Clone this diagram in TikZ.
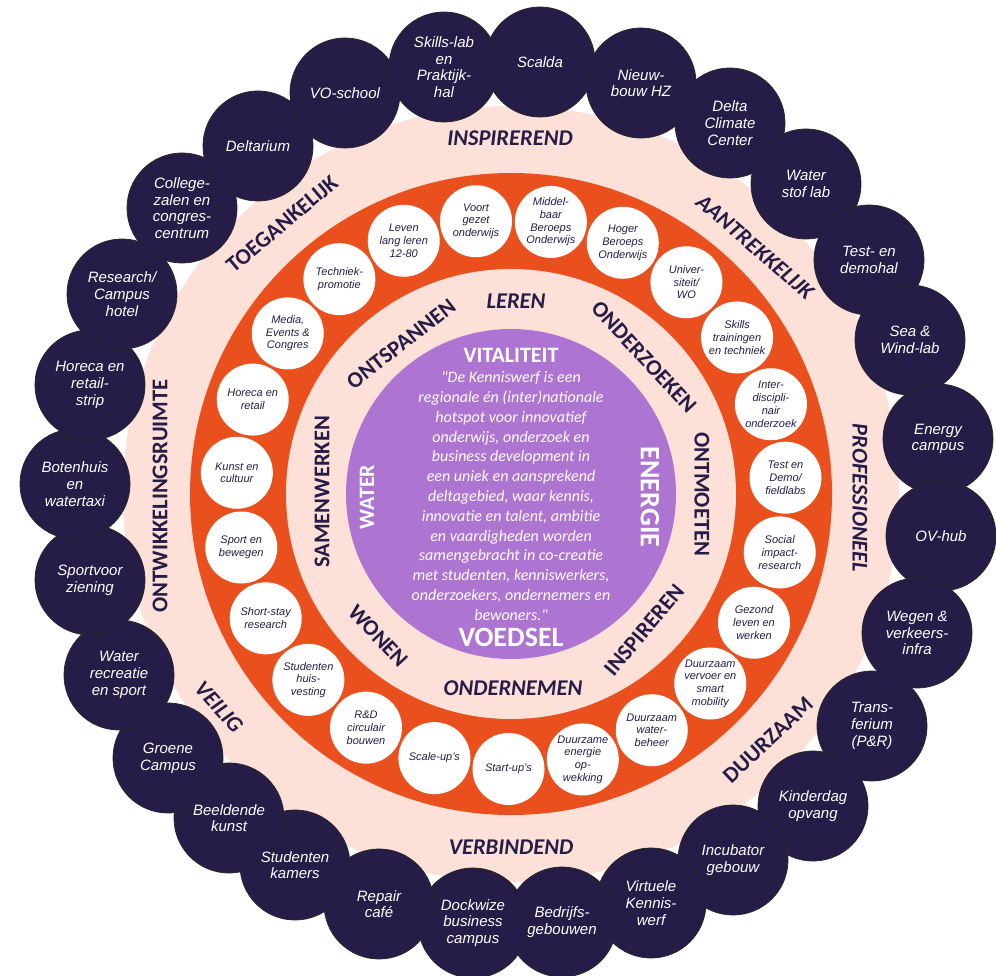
\documentclass[tikz,border=0pt]{standalone}
\usepackage{fontspec}
\setmainfont{Liberation Sans}
\newfontfamily\carl{Carlito}
\definecolor{navy}{RGB}{37,29,72}
\definecolor{ringpink}{RGB}{253,224,215}
\definecolor{ringorange}{RGB}{234,80,30}
\definecolor{purp}{RGB}{174,116,210}
\begin{document}
\begin{tikzpicture}[x=1pt,y=-1pt,
  outerdisc/.style={fill=navy,draw=black!85,line width=0.8pt},
  outer/.style={circle,minimum size=110pt,inner sep=0pt,align=center,text=white,font=\itshape\fontsize{15}{16.7}\selectfont},
  innerc/.style={circle,fill=white,minimum size=72pt,inner sep=0pt,align=center,text=navy,font=\itshape\fontsize{11}{12.7}\selectfont},
  ringlab/.style={text=navy,inner sep=0pt,font=\carl\bfseries\fontsize{22.5}{24}\selectfont},
  ringlabi/.style={text=navy,inner sep=0pt,font=\carl\bfseries\itshape\fontsize{22.5}{24}\selectfont},
  headlab/.style={text=white,inner sep=0pt,font=\carl\bfseries\fontsize{22}{24}\selectfont},
  quote/.style={text=white,inner sep=0pt,align=center,font=\carl\itshape\fontsize{16}{19.8}\selectfont}
]
\useasboundingbox (0,0) rectangle (996,976);
\coordinate (c) at (511,494);
\fill[ringpink] (c) circle (388pt);
\fill[ringorange] (c) circle (321pt);
\fill[ringpink] (c) circle (225pt);
\fill[purp] (c) circle (165pt);

% inner white circles
\node[innerc] (w0) at ([shift={(3.4:275pt)}]c) {Test en\\Demo/\\fieldlabs};
\node[innerc] (w1) at ([shift={(19.05:275pt)}]c) {Inter-\\discipli-\\nair\\onderzoek};
\node[innerc] (w2) at ([shift={(34.7:275pt)}]c) {Skills\\trainingen\\en techniek};
\node[innerc] (w3) at ([shift={(50.36:275pt)}]c) {Univer-\\siteit/\\WO};
\node[innerc] (w4) at ([shift={(66.01:275pt)}]c) {Hoger\\Beroeps\\Onderwijs};
\node[innerc] (w5) at ([shift={(81.66:275pt)}]c) {Middel-\\baar\\Beroeps\\Onderwijs};
\node[innerc] (w6) at ([shift={(97.31:275pt)}]c) {Voort\\gezet\\onderwijs};
\node[innerc] (w7) at ([shift={(112.96:275pt)}]c) {Leven\\lang leren\\12-80};
\node[innerc] (w8) at ([shift={(128.62:275pt)}]c) {Techniek-\\promotie};
\node[innerc] (w9) at ([shift={(144.27:275pt)}]c) {Media,\\Events \&\\Congres};
\node[innerc] (w10) at ([shift={(159.92:275pt)}]c) {Horeca en\\retail};
\node[innerc] (w11) at ([shift={(175.57:275pt)}]c) {Kunst en\\cultuur};
\node[innerc] (w12) at ([shift={(191.22:275pt)}]c) {Sport en\\bewegen};
\node[innerc] (w13) at ([shift={(206.88:275pt)}]c) {Short-stay\\research};
\node[innerc] (w14) at ([shift={(222.53:275pt)}]c) {Studenten\\huis-\\vesting};
\node[innerc] (w15) at ([shift={(238.18:275pt)}]c) {R\&D\\circulair\\bouwen};
\node[innerc] (w16) at ([shift={(253.83:275pt)}]c) {Scale-up’s};
\node[innerc] (w17) at ([shift={(269.48:275pt)}]c) {Start-up’s};
\node[innerc] (w18) at ([shift={(285.14:275pt)}]c) {Duurzame\\energie\\op-\\wekking};
\node[innerc] (w19) at ([shift={(300.79:275pt)}]c) {Duurzaam\\water-\\beheer};
\node[innerc] (w20) at ([shift={(316.44:275pt)}]c) {Duurzaam\\vervoer en\\smart\\mobility};
\node[innerc] (w21) at ([shift={(332.09:275pt)}]c) {Gezond\\leven en\\werken};
\node[innerc] (w22) at ([shift={(347.74:275pt)}]c) {Social\\impact-\\research};

% outer dark discs (each over its clockwise neighbour), texts on top of all
\foreach \p in {(540,62),(641,83),(730,123),(806,184),(869,260),(910,340),(938,439),(941,536),(917,633),(872,726),(813,806),(733,860),(651,903),(562,922),(473,923),(379,904),(295,865),(229,818),(168,758),(119,675),(90,580),(75,484),(90,385),(122,294),(182,208),(258,146),(345,93),(444,67)}
  \filldraw[outerdisc] \p circle (55pt);

\node[outer] (o28) at (540,62) {Scalda};
\node[outer] (o27) at (641,83) {Nieuw-\\bouw HZ};
\node[outer] (o26) at (730,123) {Delta\\Climate\\Center};
\node[outer] (o25) at (806,184) {Water\\stof lab};
\node[outer] (o24) at (869,260) {Test- en\\demohal};
\node[outer] (o23) at (910,340) {Sea \&\\Wind-lab};
\node[outer] (o22) at (938,439) {Energy\\campus};
\node[outer] (o21) at (941,536) {OV-hub};
\node[outer] (o20) at (917,633) {Wegen \&\\verkeers-\\infra};
\node[outer] (o19) at (872,726) {Trans-\\ferium\\(P\&R)};
\node[outer] (o18) at (813,806) {Kinderdag\\opvang};
\node[outer] (o17) at (733,860) {Incubator\\gebouw};
\node[outer] (o16) at (651,903) {Virtuele\\Kennis-\\werf};
\node[outer] (o15) at (562,922) {Bedrijfs-\\gebouwen};
\node[outer] (o14) at (473,923) {Dockwize\\business\\campus};
\node[outer] (o13) at (379,904) {Repair\\café};
\node[outer] (o12) at (295,865) {Studenten\\kamers};
\node[outer] (o11) at (229,818) {Beeldende\\kunst};
\node[outer] (o10) at (168,758) {Groene\\Campus};
\node[outer] (o9) at (119,675) {Water\\recreatie\\en sport};
\node[outer] (o8) at (90,580) {Sportvoor\\ziening};
\node[outer] (o7) at (75,484) {Botenhuis\\en\\watertaxi};
\node[outer] (o6) at (90,385) {Horeca en\\retail-\\strip};
\node[outer] (o5) at (122,294) {Research/\\Campus\\hotel};
\node[outer] (o4) at (182,208) {College-\\zalen en\\congres-\\centrum};
\node[outer] (o3) at (258,146) {Deltarium};
\node[outer] (o2) at (345,93) {VO-school};
\node[outer] (o1) at (444,67) {Skills-lab\\en\\Praktijk-\\hal};

% outer ring labels
\node[ringlabi] (l1) at (510,138) {INSPIREREND};
\node[ringlabi,rotate=-41] (l2) at (755,247) {AANTREKKELIJK};
\node[ringlabi,rotate=-90] (l3) at (860,498) {PROFESSIONEEL};
\node[ringlab,rotate=43] (l4) at (768,740) {DUURZAAM};
\node[ringlabi] (l5) at (511,847) {VERBINDEND};
\node[ringlabi,rotate=-48] (l6) at (219,707) {VEILIG};
\node[ringlab,rotate=90] (l7) at (160,496) {ONTWIKKELINGSRUIMTE};
\node[ringlab,rotate=40] (l8) at (282,224) {TOEGANKELIJK};

% inner ring labels
\node[ringlabi] (m1) at (516,301) {LEREN};
\node[ringlab,rotate=-47] (m2) at (644,357) {ONDERZOEKEN};
\node[ringlab,rotate=-90] (m3) at (702,494) {ONTMOETEN};
\node[ringlab,rotate=50] (m4) at (644,630) {INSPIREREN};
\node[ringlabi] (m5) at (513,688) {ONDERNEMEN};
\node[ringlab,rotate=-47] (m6) at (378,636) {WONEN};
\node[ringlab,rotate=90] (m7) at (322,492) {SAMENWERKEN};
\node[ringlab,rotate=38] (m8) at (401,344) {ONTSPANNEN};

% centre
\node[headlab] (h1) at (511,355) {VITALITEIT};
\node[headlab,font=\carl\bfseries\fontsize{28}{30}\selectfont] (h2) at (511,637) {VOEDSEL};
\node[headlab,rotate=90] (h3) at (367,497) {WATER};
\node[headlab,rotate=-90,font=\carl\bfseries\fontsize{28}{30}\selectfont] (h4) at (650,497) {ENERGIE};
\node[quote] (q) at (511,496) {"De Kenniswerf is een\\regionale én (inter)nationale\\hotspot voor innovatief\\onderwijs, onderzoek en\\business development in\\een uniek en aansprekend\\deltagebied, waar kennis,\\innovatie en talent, ambitie\\en vaardigheden worden\\samengebracht in co-creatie\\met studenten, kenniswerkers,\\onderzoekers, ondernemers en\\bewoners."};
\end{tikzpicture}
\end{document}
